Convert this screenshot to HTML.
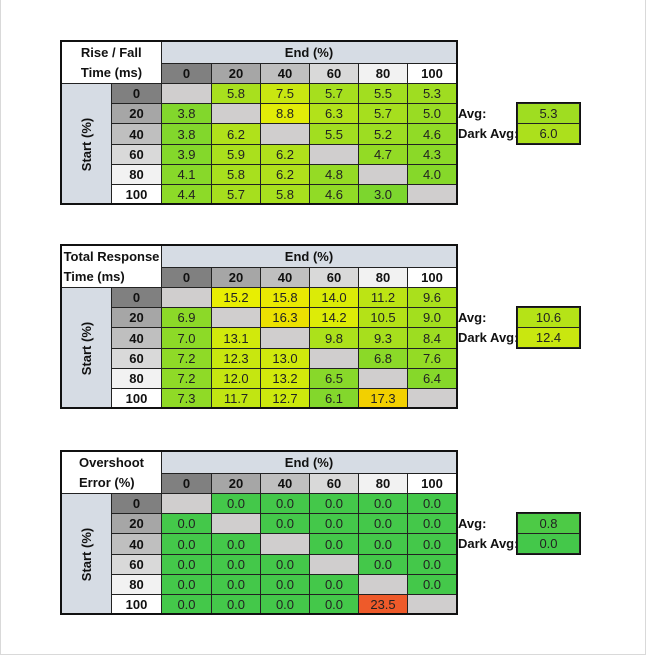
<!DOCTYPE html>
<html><head><meta charset="utf-8"><style>
body{margin:0;width:646px;height:656px;background:#fff;position:relative;overflow:hidden;font-family:"Liberation Sans",sans-serif;}
#frame{position:absolute;left:0;top:0;width:644px;height:654px;border:1px solid #d9d9d9;border-top:none;}
.c{position:absolute;box-sizing:border-box;border:1px solid #222;display:flex;align-items:center;justify-content:center;font-size:13px;color:#222;}
.b{font-weight:bold;color:#111;}
.t{position:absolute;font-size:13px;font-weight:bold;color:#111;}
.box{position:absolute;box-sizing:border-box;border:2px solid #111;}
</style></head><body>
<div id="frame"></div>
<div id="root"></div>
<script>
const headers=["0","20","40","60","80","100"];
const riseFall=[[null,5.8,7.5,5.7,5.5,5.3],[3.8,null,8.8,6.3,5.7,5.0],[3.8,6.2,null,5.5,5.2,4.6],[3.9,5.9,6.2,null,4.7,4.3],[4.1,5.8,6.2,4.8,null,4.0],[4.4,5.7,5.8,4.6,3.0,null]];
const totalResp=[[null,15.2,15.8,14.0,11.2,9.6],[6.9,null,16.3,14.2,10.5,9.0],[7.0,13.1,null,9.8,9.3,8.4],[7.2,12.3,13.0,null,6.8,7.6],[7.2,12.0,13.2,6.5,null,6.4],[7.3,11.7,12.7,6.1,17.3,null]];
const overshoot=[[null,0,0,0,0,0],[0,null,0,0,0,0],[0,0,null,0,0,0],[0,0,0,null,0,0],[0,0,0,0,null,0],[0,0,0,0,23.5,null]];
const avgs=[[5.3,6.0],[10.6,12.4],[0.8,0.0]];
const hdrCol=["#808080","#a6a6a6","#bfbfbf","#d9d9d9","#f2f2f2","#ffffff"];
function mix(a,b,t){t=Math.max(0,Math.min(1,t));const p=x=>[1,3,5].map(i=>parseInt(x.substr(i,2),16));const A=p(a),B=p(b);return "rgb("+A.map((v,i)=>Math.round(v+(B[i]-v)*t)).join(",")+")";}
const scales=[
 v=>mix("#7cd62e","#e2ec08",(v-3.5)/(8.8-3.5)),
 v=>v<=15.5?mix("#82d72c","#e8ee02",(v-6)/(15.2-6)):mix("#e8ee02","#f2d000",(v-15.5)/(1.8)),
 v=>v<5?mix("#44c84a","#7cd62e",v/5):"#ee5a2a"
];
const titles=[["Rise / Fall","Time (ms)"],["Total Response","Time (ms)"],["Overshoot","Error (%)"]];
const datas=[riseFall,totalResp,overshoot];
const tops=[41,245,451];
const names=["rise-fall","total-response","overshoot"];
const root=document.getElementById('root');
const colX=[161,211,260,309,358,407,456];
function cell(x,y,w,h,txt,cls,bg){const d=document.createElement('div');d.className='c '+(cls||'');d.style.cssText=`left:${x}px;top:${y}px;width:${w+1}px;height:${h+1}px;background:${bg||'#fff'}`;d.textContent=txt;root.appendChild(d);return d;}
datas.forEach((data,k)=>{
 const T=tops[k],sc=scales[k];
 const rowY=i=>T+42+i*20.2;
 let d=cell(61,T,100,42,"","b","#fff");d.innerHTML=titles[k][0]+"<br>"+titles[k][1];d.style.lineHeight="20px";
 
 d=cell(161,T,295,22,"End (%)","b","#d6dce4");
 
 d=cell(61,T+42,50,121,"","b","#d6dce4");d.innerHTML='<span style="transform:rotate(-90deg);white-space:nowrap">Start (%)</span>';
 
 headers.forEach((h,j)=>{
  d=cell(colX[j],T+22,colX[j+1]-colX[j],20,h,"b",hdrCol[j]);
  
  const y0=Math.round(rowY(j)),y1=Math.round(rowY(j+1));
  d=cell(111,y0,50,y1-y0,h,"b",hdrCol[j]);
  
 });
 data.forEach((row,i)=>row.forEach((v,j)=>{
  const y0=Math.round(rowY(i)),y1=Math.round(rowY(i+1));
  d=cell(colX[j],y0,colX[j+1]-colX[j],y1-y0,v==null?"":v.toFixed(1),"",v==null?"#d0cece":sc(v));
  
 }));
 const ob=document.createElement('div');ob.className='box';ob.style.cssText=`left:60px;top:${T-1}px;width:398px;height:165px`;root.appendChild(ob);
 
 ["Avg:","Dark Avg:"].forEach((lab,r)=>{
  const y=T+62+r*20;
  const t=document.createElement('div');t.className='t';t.style.cssText=`left:458px;top:${y+3}px`;t.textContent=lab;root.appendChild(t);
  
  d=cell(517,y,62,20,avgs[k][r].toFixed(1),"",sc(avgs[k][r]));
  
 });
 const ab=document.createElement('div');ab.className='box';ab.style.cssText=`left:516px;top:${T+61}px;width:65px;height:43px;border-width:1.5px`;root.appendChild(ab);
 
});
</script>
</body></html>
